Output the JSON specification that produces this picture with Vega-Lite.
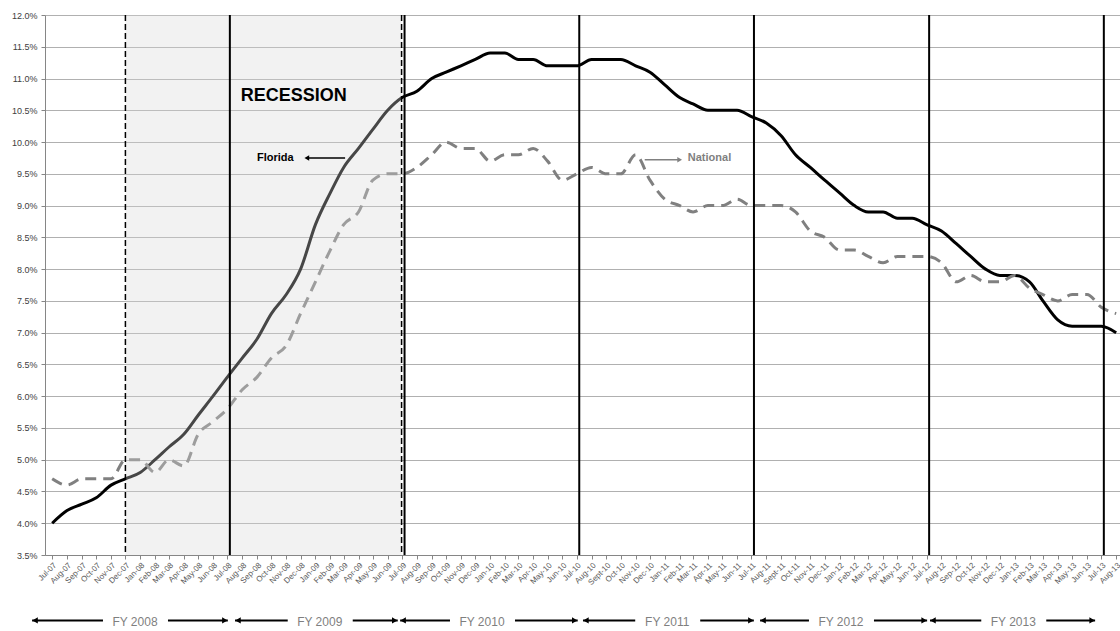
{
  "$schema": "https://vega.github.io/schema/vega-lite/v6.json",
  "width": 1075,
  "height": 540,
  "autosize": {"type": "none"},
  "padding": {"left": 45, "top": 15, "right": 0, "bottom": 76},
  "background": "white",
  "config": {"view": {"stroke": null}, "font": "Liberation Sans"},
  "title": {"text": "Unemployment Rate", "fontSize": 26, "fontWeight": "bold", "anchor": "start", "frame": "group", "dx": 409, "offset": 10, "baseline": "alphabetic", "color": "#000000"},
  "datasets": {
    "rates": [
      {"date": "2007-07-01", "florida": 4.0, "national": 4.7},
      {"date": "2007-08-01", "florida": 4.2, "national": 4.6},
      {"date": "2007-09-01", "florida": 4.3, "national": 4.7},
      {"date": "2007-10-01", "florida": 4.4, "national": 4.7},
      {"date": "2007-11-01", "florida": 4.6, "national": 4.7},
      {"date": "2007-12-01", "florida": 4.7, "national": 5.0},
      {"date": "2008-01-01", "florida": 4.8, "national": 5.0},
      {"date": "2008-02-01", "florida": 5.0, "national": 4.8},
      {"date": "2008-03-01", "florida": 5.2, "national": 5.0},
      {"date": "2008-04-01", "florida": 5.4, "national": 4.9},
      {"date": "2008-05-01", "florida": 5.7, "national": 5.4},
      {"date": "2008-06-01", "florida": 6.0, "national": 5.6},
      {"date": "2008-07-01", "florida": 6.3, "national": 5.8},
      {"date": "2008-08-01", "florida": 6.6, "national": 6.1},
      {"date": "2008-09-01", "florida": 6.9, "national": 6.3},
      {"date": "2008-10-01", "florida": 7.3, "national": 6.6},
      {"date": "2008-11-01", "florida": 7.6, "national": 6.8},
      {"date": "2008-12-01", "florida": 8.0, "national": 7.3},
      {"date": "2009-01-01", "florida": 8.7, "national": 7.8},
      {"date": "2009-02-01", "florida": 9.2, "national": 8.3},
      {"date": "2009-03-01", "florida": 9.6, "national": 8.7},
      {"date": "2009-04-01", "florida": 9.9, "national": 8.9},
      {"date": "2009-05-01", "florida": 10.2, "national": 9.4},
      {"date": "2009-06-01", "florida": 10.5, "national": 9.5},
      {"date": "2009-07-01", "florida": 10.7, "national": 9.5},
      {"date": "2009-08-01", "florida": 10.8, "national": 9.6},
      {"date": "2009-09-01", "florida": 11.0, "national": 9.8},
      {"date": "2009-10-01", "florida": 11.1, "national": 10.0},
      {"date": "2009-11-01", "florida": 11.2, "national": 9.9},
      {"date": "2009-12-01", "florida": 11.3, "national": 9.9},
      {"date": "2010-01-01", "florida": 11.4, "national": 9.7},
      {"date": "2010-02-01", "florida": 11.4, "national": 9.8},
      {"date": "2010-03-01", "florida": 11.3, "national": 9.8},
      {"date": "2010-04-01", "florida": 11.3, "national": 9.9},
      {"date": "2010-05-01", "florida": 11.2, "national": 9.7},
      {"date": "2010-06-01", "florida": 11.2, "national": 9.4},
      {"date": "2010-07-01", "florida": 11.2, "national": 9.5},
      {"date": "2010-08-01", "florida": 11.3, "national": 9.6},
      {"date": "2010-09-01", "florida": 11.3, "national": 9.5},
      {"date": "2010-10-01", "florida": 11.3, "national": 9.5},
      {"date": "2010-11-01", "florida": 11.2, "national": 9.8},
      {"date": "2010-12-01", "florida": 11.1, "national": 9.4},
      {"date": "2011-01-01", "florida": 10.9, "national": 9.1},
      {"date": "2011-02-01", "florida": 10.7, "national": 9.0},
      {"date": "2011-03-01", "florida": 10.6, "national": 8.9},
      {"date": "2011-04-01", "florida": 10.5, "national": 9.0},
      {"date": "2011-05-01", "florida": 10.5, "national": 9.0},
      {"date": "2011-06-01", "florida": 10.5, "national": 9.1},
      {"date": "2011-07-01", "florida": 10.4, "national": 9.0},
      {"date": "2011-08-01", "florida": 10.3, "national": 9.0},
      {"date": "2011-09-01", "florida": 10.1, "national": 9.0},
      {"date": "2011-10-01", "florida": 9.8, "national": 8.9},
      {"date": "2011-11-01", "florida": 9.6, "national": 8.6},
      {"date": "2011-12-01", "florida": 9.4, "national": 8.5},
      {"date": "2012-01-01", "florida": 9.2, "national": 8.3},
      {"date": "2012-02-01", "florida": 9.0, "national": 8.3},
      {"date": "2012-03-01", "florida": 8.9, "national": 8.2},
      {"date": "2012-04-01", "florida": 8.9, "national": 8.1},
      {"date": "2012-05-01", "florida": 8.8, "national": 8.2},
      {"date": "2012-06-01", "florida": 8.8, "national": 8.2},
      {"date": "2012-07-01", "florida": 8.7, "national": 8.2},
      {"date": "2012-08-01", "florida": 8.6, "national": 8.1},
      {"date": "2012-09-01", "florida": 8.4, "national": 7.8},
      {"date": "2012-10-01", "florida": 8.2, "national": 7.9},
      {"date": "2012-11-01", "florida": 8.0, "national": 7.8},
      {"date": "2012-12-01", "florida": 7.9, "national": 7.8},
      {"date": "2013-01-01", "florida": 7.9, "national": 7.9},
      {"date": "2013-02-01", "florida": 7.8, "national": 7.7},
      {"date": "2013-03-01", "florida": 7.5, "national": 7.6},
      {"date": "2013-04-01", "florida": 7.2, "national": 7.5},
      {"date": "2013-05-01", "florida": 7.1, "national": 7.6},
      {"date": "2013-06-01", "florida": 7.1, "national": 7.6},
      {"date": "2013-07-01", "florida": 7.1, "national": 7.4},
      {"date": "2013-08-01", "florida": 7.0, "national": 7.3}
    ],
    "recession": [
      {"start": "2007-12-01", "end": "2009-06-30"}
    ],
    "fiscal": [
      {"fy": "FY 2008", "arrow_from": "2007-05-20", "arrow_to": "2008-07-02", "label_at": "2007-12-21", "boundary": "2008-07-01"},
      {"fy": "FY 2009", "arrow_from": "2008-07-17", "arrow_to": "2009-06-22", "label_at": "2009-01-10", "boundary": "2009-07-01"},
      {"fy": "FY 2010", "arrow_from": "2009-06-27", "arrow_to": "2010-07-03", "label_at": "2009-12-15", "boundary": "2010-07-01"},
      {"fy": "FY 2011", "arrow_from": "2010-07-14", "arrow_to": "2011-07-06", "label_at": "2011-01-06", "boundary": "2011-07-01"},
      {"fy": "FY 2012", "arrow_from": "2011-07-19", "arrow_to": "2012-07-02", "label_at": "2012-01-04", "boundary": "2012-07-01"},
      {"fy": "FY 2013", "arrow_from": "2012-07-08", "arrow_to": "2013-06-18", "label_at": "2012-12-29", "boundary": "2013-07-01"}
    ],
    "notes": [
      {"label": "RECESSION", "date": "2008-07-29", "rate": 10.72},
      {"label": "Florida", "date": "2008-09-01", "rate": 9.75},
      {"label": "National", "date": "2011-02-18", "rate": 9.75}
    ],
    "pointers": [
      {"series": "Florida", "tail": "2009-03-04", "head": "2008-12-14", "rate": 9.75},
      {"series": "National", "tail": "2010-11-20", "head": "2011-02-01", "rate": 9.72}
    ]
  },
  "layer": [
    {
      "data": {"name": "rates"},
      "mark": {"type": "line", "color": "#000000", "strokeWidth": 3, "interpolate": "monotone"},
      "encoding": {
        "x": {
          "field": "date", "type": "temporal",
          "scale": {"type": "utc", "domain": [{"year": 2007, "month": 6, "date": 16, "utc": true}, {"year": 2013, "month": 8, "date": 9, "utc": true}]},
          "axis": {
            "title": null, "grid": false,
            "tickCount": {"interval": "month", "step": 1},
            "labelExpr": "(utcFormat(datum.value, '%m') == '09' && (utcFormat(datum.value, '%y') == '10' || utcFormat(datum.value, '%y') == '11')) ? 'Sept-' + utcFormat(datum.value, '%y') : utcFormat(datum.value, '%b-%y')",
            "labelAngle": -45, "labelFontSize": 8, "labelColor": "#595959", "labelOverlap": false, "labelFlush": false,
            "domainColor": "#868686", "tickColor": "#868686", "tickSize": 4, "labelPadding": 2
          }
        },
        "y": {
          "field": "florida", "type": "quantitative",
          "scale": {"domain": [3.5, 12], "nice": false, "zero": false},
          "axis": {
            "title": null, "tickCount": 17,
            "labelExpr": "format(datum.value, '.1f') + '%'",
            "labelFontSize": 9, "labelColor": "#404040",
            "gridColor": "#b0b0b0", "gridWidth": 1,
            "domainColor": "#868686", "tickColor": "#868686", "tickSize": 4, "labelPadding": 4
          }
        }
      }
    },
    {
      "data": {"name": "rates"},
      "mark": {"type": "line", "color": "#808080", "strokeWidth": 3, "strokeDash": [11, 7], "interpolate": "monotone"},
      "encoding": {
        "x": {"field": "date", "type": "temporal", "axis": {"title": null}},
        "y": {"field": "national", "type": "quantitative", "axis": {"title": null}}
      }
    },
    {
      "data": {"name": "recession"},
      "mark": {"type": "rect", "fill": "#d9d9d9", "opacity": 0.33},
      "encoding": {
        "x": {"field": "start", "type": "temporal", "axis": {"title": null}},
        "x2": {"field": "end"},
        "y": {"datum": 3.5, "type": "quantitative", "axis": {"title": null}},
        "y2": {"datum": 12}
      }
    },
    {
      "data": {"name": "recession"},
      "mark": {"type": "rule", "color": "#000000", "strokeWidth": 1.5, "strokeDash": [6, 3]},
      "encoding": {"x": {"field": "start", "type": "temporal", "axis": {"title": null}}}
    },
    {
      "data": {"name": "recession"},
      "mark": {"type": "rule", "color": "#000000", "strokeWidth": 1.5, "strokeDash": [6, 3]},
      "encoding": {"x": {"field": "end", "type": "temporal", "axis": {"title": null}}}
    },
    {
      "data": {"name": "fiscal"},
      "mark": {"type": "rule", "color": "#000000", "strokeWidth": 2, "xOffset": 2.5},
      "encoding": {"x": {"field": "boundary", "type": "temporal", "axis": {"title": null}}}
    },
    {
      "data": {"name": "fiscal"},
      "mark": {"type": "rule", "color": "#000000", "strokeWidth": 2, "x2Offset": -32},
      "encoding": {
        "x": {"field": "arrow_from", "type": "temporal", "axis": {"title": null}},
        "x2": {"field": "label_at"},
        "y": {"datum": 2.47, "type": "quantitative", "axis": {"title": null}}
      }
    },
    {
      "data": {"name": "fiscal"},
      "mark": {"type": "rule", "color": "#000000", "strokeWidth": 2, "xOffset": 33},
      "encoding": {
        "x": {"field": "label_at", "type": "temporal", "axis": {"title": null}},
        "x2": {"field": "arrow_to"},
        "y": {"datum": 2.47, "type": "quantitative", "axis": {"title": null}}
      }
    },
    {
      "data": {"name": "fiscal"},
      "mark": {"type": "point", "shape": "triangle-left", "filled": true, "color": "#000000", "size": 40, "opacity": 1, "xOffset": 3},
      "encoding": {
        "x": {"field": "arrow_from", "type": "temporal", "axis": {"title": null}},
        "y": {"datum": 2.47, "type": "quantitative", "axis": {"title": null}}
      }
    },
    {
      "data": {"name": "fiscal"},
      "mark": {"type": "point", "shape": "triangle-right", "filled": true, "color": "#000000", "size": 40, "opacity": 1, "xOffset": -3},
      "encoding": {
        "x": {"field": "arrow_to", "type": "temporal", "axis": {"title": null}},
        "y": {"datum": 2.47, "type": "quantitative", "axis": {"title": null}}
      }
    },
    {
      "data": {"name": "fiscal"},
      "mark": {"type": "text", "fontSize": 12, "color": "#7f7f7f", "align": "center", "baseline": "middle"},
      "encoding": {
        "x": {"field": "label_at", "type": "temporal", "axis": {"title": null}},
        "y": {"datum": 2.45, "type": "quantitative", "axis": {"title": null}},
        "text": {"field": "fy"}
      }
    },
    {
      "data": {"name": "pointers"},
      "mark": {"type": "rule", "strokeWidth": 1.5},
      "encoding": {
        "x": {"field": "tail", "type": "temporal", "axis": {"title": null}},
        "x2": {"field": "head"},
        "y": {"field": "rate", "type": "quantitative", "axis": {"title": null}},
        "color": {"field": "series", "type": "nominal", "scale": {"domain": ["Florida", "National"], "range": ["#000000", "#808080"]}, "legend": null}
      }
    },
    {
      "data": {"name": "pointers"},
      "mark": {"type": "point", "filled": true, "size": 30, "opacity": 1},
      "encoding": {
        "x": {"field": "head", "type": "temporal", "axis": {"title": null}},
        "y": {"field": "rate", "type": "quantitative", "axis": {"title": null}},
        "shape": {"field": "series", "type": "nominal", "scale": {"domain": ["Florida", "National"], "range": ["triangle-left", "triangle-right"]}, "legend": null},
        "color": {"field": "series", "type": "nominal", "legend": null}
      }
    },
    {
      "data": {"name": "notes"},
      "transform": [{"filter": "datum.label == 'RECESSION'"}],
      "mark": {"type": "text", "fontSize": 18, "fontWeight": "bold", "color": "#000000", "align": "left", "baseline": "middle"},
      "encoding": {
        "x": {"field": "date", "type": "temporal", "axis": {"title": null}},
        "y": {"field": "rate", "type": "quantitative", "axis": {"title": null}},
        "text": {"field": "label"}
      }
    },
    {
      "data": {"name": "notes"},
      "transform": [{"filter": "datum.label != 'RECESSION'"}],
      "mark": {"type": "text", "fontSize": 11, "fontWeight": "bold", "align": "left", "baseline": "middle"},
      "encoding": {
        "x": {"field": "date", "type": "temporal", "axis": {"title": null}},
        "y": {"field": "rate", "type": "quantitative", "axis": {"title": null}},
        "text": {"field": "label"},
        "color": {"field": "label", "type": "nominal", "legend": null}
      }
    }
  ]
}
